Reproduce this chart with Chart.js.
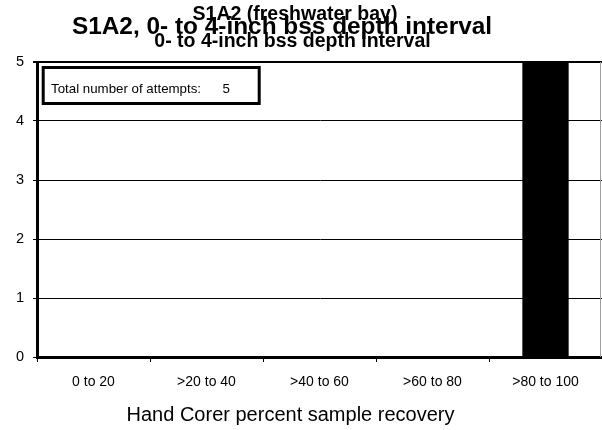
<!DOCTYPE html>
<html>
<head>
<meta charset="utf-8">
<script src="https://cdn.jsdelivr.net/npm/chart.js@4.4.1/dist/chart.umd.min.js"></script>
<style>
  html, body { margin: 0; padding: 0; background: #ffffff; }
  canvas { display: block; }
</style>
</head>
<body>
<canvas id="c" width="602" height="430"></canvas>
<script>
// ---- data ----
const categories = ["0 to 20", ">20 to 40", ">40 to 60", ">60 to 80", ">80 to 100"];
const counts = [0, 0, 0, 0, 5];
const yTicks = [0, 1, 2, 3, 4, 5];
const mainTitle = "S1A2, 0- to 4-inch bss depth interval";
const subTitle1 = "S1A2 (freshwater bay)";
const subTitle2 = "0- to 4-inch bss depth interval";
const xAxisTitle = "Hand Corer percent sample recovery";
const noteLabel = "Total number of attempts:";
const totalAttempts = counts.reduce((a, b) => a + b, 0);

const SANS = "'Liberation Sans', Arial, sans-serif";

const textPlugin = {
  id: 'texts',
  afterDraw(chart) {
    const ctx = chart.ctx;
    const ca = chart.chartArea;
    ctx.save();
    // right plot border (grey)
    ctx.strokeStyle = '#a0a0a0';
    ctx.lineWidth = 1;
    ctx.beginPath();
    ctx.moveTo(ca.right - 1.5, ca.top);
    ctx.lineTo(ca.right - 1.5, ca.bottom);
    ctx.stroke();

    ctx.fillStyle = '#000';
    ctx.textBaseline = 'alphabetic';
    ctx.textAlign = 'center';
    ctx.font = "bold 24.4px " + SANS;
    ctx.fillText(mainTitle, 282, 34);
    ctx.font = "bold 19.5px " + SANS;
    ctx.fillText(subTitle1, 295, 20);
    ctx.fillText(subTitle2, 292.5, 47);

    // axis title
    ctx.font = "20px " + SANS;
    ctx.fillText(xAxisTitle, 290.5, 421);

    // note box
    ctx.strokeStyle = '#000';
    ctx.lineWidth = 3;
    ctx.strokeRect(43.2, 67.5, 216, 36);
    ctx.textAlign = 'left';
    ctx.font = "13.3px " + SANS;
    ctx.fillText(noteLabel, 51, 93);
    ctx.fillText(String(totalAttempts), 222.5, 93);
    ctx.restore();
  }
};

new Chart(document.getElementById('c'), {
  type: 'bar',
  data: {
    labels: categories,
    datasets: [{
      data: counts,
      backgroundColor: '#000000',
      borderWidth: 0,
      barPercentage: 0.41,
      categoryPercentage: 1.0
    }]
  },
  options: {
    responsive: false,
    animation: false,
    devicePixelRatio: 1,
    layout: { padding: { top: 62, right: 0, left: 0, bottom: 0 } },
    plugins: {
      legend: { display: false },
      title: { display: false },
      tooltip: { enabled: false }
    },
    scales: {
      x: {
        offset: true,
        grid: {
          offset: true,
          drawOnChartArea: false,
          drawTicks: true,
          tickLength: 5,
          color: '#000',
          lineWidth: 1
        },
        border: { display: true, color: '#000', width: 3 },
        ticks: {
          color: '#000',
          font: { family: SANS, size: 14 },
          padding: 12,
          maxRotation: 0,
          autoSkip: false
        },
        afterFit(scale) { scale.height = 73; }
      },
      y: {
        min: 0,
        max: 5,
        afterBuildTicks(scale) { scale.ticks = yTicks.map(v => ({ value: v })); },
        grid: {
          color: '#000',
          lineWidth: (c) => (c.tick && c.tick.value === 5 ? 2 : 1),
          drawTicks: true,
          tickLength: 4
        },
        border: { display: true, color: '#000', width: 3 },
        ticks: {
          color: '#000',
          font: { family: SANS, size: 14.5 },
          padding: 9
        },
        afterFit(scale) { scale.width = 37; }
      }
    }
  },
  plugins: [textPlugin]
});
</script>
</body>
</html>
